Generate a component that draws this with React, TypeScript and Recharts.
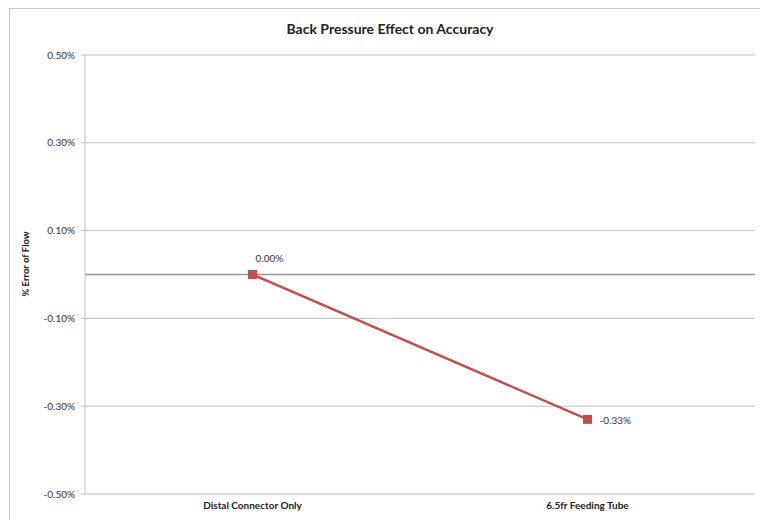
import { LineChart, Line, XAxis, YAxis, CartesianGrid, ReferenceLine, LabelList } from "recharts";

const categories = ["Distal Connector Only", "6.5fr Feeding Tube"];
const errorValues = [0.0, -0.33];
const yTicks = [-0.5, -0.3, -0.1, 0.1, 0.3, 0.5];

const data = categories.map((name, i) => ({ name, value: errorValues[i] }));

const RED = "#C0504D";
const FONT = "Lato, 'Open Sans', sans-serif";

const fmt = (v: number) => `${v.toFixed(2)}%`;

const SquareDot = (props: any) => {
  const { cx, cy, index } = props;
  return <rect key={`dot-${index}`} x={cx - 4.5} y={cy - 4.5} width={9} height={9} fill={RED} />;
};

const PointLabel = (props: any) => {
  const { x, y, value, index } = props;
  // first label sits above the marker, the others to its right
  if (index === 0) {
    return (
      <text x={x + 17} y={y - 17} textAnchor="middle" dominantBaseline="central" fontSize={10} fill="#333" fontFamily={FONT}>
        {fmt(value)}
      </text>
    );
  }
  return (
    <text x={x + 12} y={y + 1} textAnchor="start" dominantBaseline="central" fontSize={10} fill="#333" fontFamily={FONT}>
      {fmt(value)}
    </text>
  );
};

export default function App() {
  return (
    <div style={{ position: "absolute", left: 0, top: 0, width: 760, height: 520, overflow: "hidden", background: "#fff", fontFamily: FONT }}>
      <div style={{ position: "absolute", left: 9, top: 8, width: 800, height: 600, border: "1px solid #c6c6c6" }} />
      <div style={{ position: "absolute", left: 0, top: 20, width: 780, textAlign: "center", fontSize: 14, fontWeight: 700, color: "#222" }}>
        Back Pressure Effect on Accuracy
      </div>
      <div
        style={{
          position: "absolute",
          left: 25,
          top: 264,
          transform: "translate(-50%, -50%) rotate(-90deg)",
          whiteSpace: "nowrap",
          fontSize: 9.5,
          fontWeight: 700,
          color: "#222",
        }}
      >
        % Error of Flow
      </div>
      <div style={{ position: "absolute", left: 0, top: 0 }}>
        <LineChart width={760} height={520} data={data} margin={{ top: 55, right: 5, left: 0, bottom: 6 }}>
          <CartesianGrid horizontal={true} vertical={false} stroke="#bfbfbf" strokeWidth={1} />
          <XAxis
            dataKey="name"
            scale="band"
            height={20}
            axisLine={false}
            tickLine={false}
            tick={{ fontSize: 10, fontWeight: 700, fill: "#222", fontFamily: FONT }}
          />
          <YAxis
            width={85}
            domain={[-0.5, 0.5]}
            ticks={yTicks}
            tickFormatter={fmt}
            axisLine={{ stroke: "#bfbfbf" }}
            tickLine={{ stroke: "#bfbfbf" }}
            tickSize={4}
            tickMargin={6}
            tick={{ fontSize: 10, fill: "#333", fontFamily: FONT }}
            allowDataOverflow
          />
          <ReferenceLine y={0} stroke="#999" strokeWidth={1.5} />
          <Line
            dataKey="value"
            stroke={RED}
            strokeWidth={2.5}
            dot={SquareDot}
            activeDot={false}
            isAnimationActive={false}
          >
            <LabelList dataKey="value" content={PointLabel} />
          </Line>
        </LineChart>
      </div>
    </div>
  );
}
